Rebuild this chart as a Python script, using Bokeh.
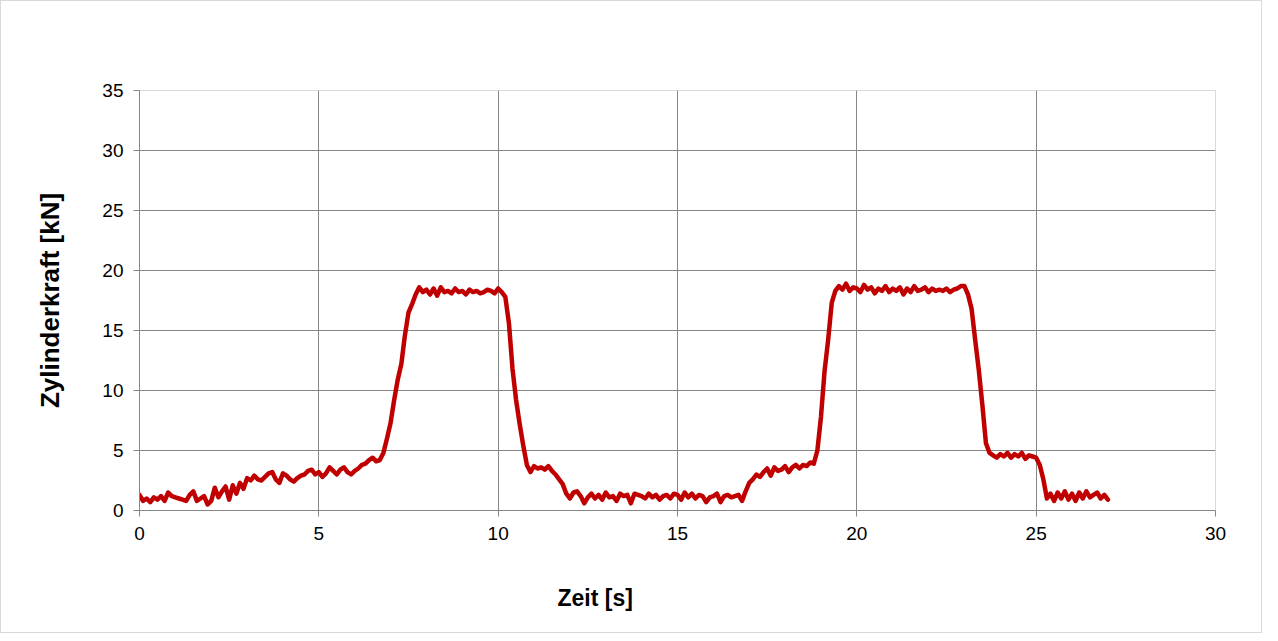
from bokeh.plotting import figure
from bokeh.models import Range1d, FixedTicker, Title
from bokeh.embed import file_html
from bokeh.resources import INLINE

# Time axis [s], 0.1 s steps
zeit = [round(i * 0.1, 1) for i in range(0, 271)]

# Zylinderkraft [kN] (one row per second)
kraft = [
    1.3, 0.8, 1.0, 0.7, 1.1, 0.9, 1.2, 0.8, 1.5, 1.2,
    1.1, 1.0, 0.9, 0.8, 1.3, 1.6, 0.8, 1.0, 1.2, 0.5,
    0.8, 1.9, 1.1, 1.6, 2.0, 0.9, 2.1, 1.4, 2.3, 1.8,
    2.7, 2.5, 2.9, 2.6, 2.5, 2.8, 3.1, 3.2, 2.6, 2.3,
    3.1, 2.9, 2.6, 2.4, 2.7, 2.9, 3.0, 3.3, 3.4, 3.0,
    3.2, 2.8, 3.1, 3.6, 3.3, 3.0, 3.4, 3.6, 3.2, 3.0,
    3.3, 3.5, 3.8, 3.9, 4.2, 4.4, 4.1, 4.2, 4.8, 6.0,
    7.3, 9.2, 10.9, 12.2, 14.6, 16.5, 17.2, 18.0, 18.6, 18.2,
    18.4, 18.0, 18.5, 17.9, 18.6, 18.2, 18.3, 18.1, 18.5, 18.2,
    18.3, 18.0, 18.4, 18.2, 18.3, 18.1, 18.2, 18.4, 18.3, 18.1,
    18.5, 18.2, 17.8, 15.6, 11.8, 9.2, 7.2, 5.4, 3.8, 3.2,
    3.7, 3.5, 3.6, 3.4, 3.7, 3.3, 3.0, 2.6, 2.2, 1.4,
    1.0, 1.5, 1.6, 1.2, 0.6, 1.1, 1.4, 1.0, 1.3, 0.9,
    1.5, 1.1, 1.2, 0.8, 1.4, 1.2, 1.3, 0.6, 1.4, 1.3,
    1.2, 1.0, 1.4, 1.1, 1.3, 0.9, 1.2, 1.3, 1.0, 1.4,
    1.3, 0.9, 1.5, 1.1, 1.4, 1.0, 1.3, 1.2, 0.7, 1.1,
    1.2, 1.4, 0.7, 1.2, 1.3, 1.1, 1.2, 1.3, 0.8, 1.6,
    2.3, 2.6, 3.0, 2.8, 3.2, 3.5, 2.9, 3.6, 3.3, 3.4,
    3.7, 3.2, 3.6, 3.8, 3.5, 3.8, 3.7, 4.0, 3.9, 5.0,
    7.8, 11.6, 14.2, 17.3, 18.3, 18.7, 18.4, 18.9, 18.3, 18.6,
    18.5, 18.2, 18.8, 18.4, 18.6, 18.1, 18.5, 18.3, 18.7, 18.2,
    18.5, 18.3, 18.6, 18.0, 18.5, 18.2, 18.7, 18.3, 18.4, 18.6,
    18.2, 18.5, 18.3, 18.4, 18.3, 18.5, 18.2, 18.4, 18.5, 18.7,
    18.7, 18.0, 16.8, 14.2, 11.7, 8.8, 5.6, 4.8, 4.6, 4.4,
    4.7, 4.5, 4.8, 4.4, 4.7, 4.5, 4.8, 4.3, 4.6, 4.5,
    4.4, 3.8, 2.6, 1.0, 1.4, 0.8, 1.5, 1.0, 1.6, 0.9,
    1.4, 0.8, 1.5, 1.0, 1.6, 1.1, 1.3, 1.5, 1.0, 1.3,
    0.9,
]

x_ticks = [0, 5, 10, 15, 20, 25, 30]
y_ticks = [0, 5, 10, 15, 20, 25, 30, 35]
x_title = "Zeit [s]"
y_title = "Zylinderkraft [kN]"

FONT = "Liberation Sans"
GRID = "#868686"
LIGHT = "#d9d9d9"

p = figure(width=1262, height=633, output_backend="svg", toolbar_location=None,
           x_range=Range1d(0, 30), y_range=Range1d(0, 35),
           min_border_left=138, min_border_right=48, min_border_top=89, min_border_bottom=124)
p.styles = {"border": "1px solid #d9d9d9"}
p.background_fill_color = "white"
p.border_fill_color = "white"
p.outline_line_color = LIGHT
p.outline_line_width = 1

p.line(zeit, kraft, line_color="#C00000", line_width=4.5, line_join="round", line_cap="round")

for ax in (p.xaxis[0], p.yaxis[0]):
    ax.axis_line_color = GRID
    ax.major_tick_line_color = GRID
    ax.major_tick_out = 6
    ax.major_tick_in = 0
    ax.minor_tick_line_color = None
    ax.major_label_text_font = FONT
    ax.major_label_text_font_size = "19px"
    ax.major_label_text_color = "black"

p.xaxis[0].ticker = FixedTicker(ticks=x_ticks)
p.yaxis[0].ticker = FixedTicker(ticks=y_ticks)
p.xaxis[0].major_label_standoff = 10
p.yaxis[0].major_label_standoff = 10

p.yaxis[0].axis_label = y_title
p.yaxis[0].axis_label_text_font = FONT
p.yaxis[0].axis_label_text_font_style = "bold"
p.yaxis[0].axis_label_text_font_size = "26px"
p.yaxis[0].axis_label_text_color = "black"
p.yaxis[0].axis_label_standoff = 34

p.xgrid.ticker = FixedTicker(ticks=[5, 10, 15, 20, 25])
p.ygrid.ticker = FixedTicker(ticks=[5, 10, 15, 20, 25, 30])
p.xgrid.grid_line_color = GRID
p.ygrid.grid_line_color = GRID

p.add_layout(Title(text=x_title, align="left", offset=418, standoff=40, padding=(0, 0, 20, 0),
                   text_font=FONT, text_font_style="bold", text_font_size="23px",
                   text_color="black"), "below")

open("out.html", "w").write(file_html(p, INLINE))
